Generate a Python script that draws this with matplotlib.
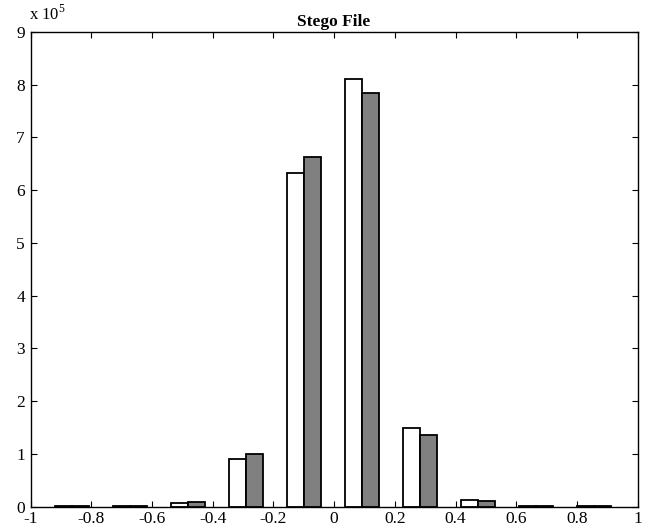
import matplotlib
matplotlib.use("Agg")
import matplotlib.pyplot as plt
import numpy as np

plt.rcParams['font.family'] = ['Liberation Serif', 'DejaVu Serif']
plt.rcParams['mathtext.fontset'] = 'custom'
plt.rcParams['mathtext.rm'] = 'Liberation Serif'
plt.rcParams['axes.unicode_minus'] = False

# histogram bin centres and counts in units of 1e5
centers = [-0.863, -0.672, -0.482, -0.290, -0.099, 0.092, 0.283, 0.474, 0.665, 0.856]
cover = [0.005, 0.004, 0.075, 0.90, 6.32, 8.11, 1.49, 0.13, 0.02, 0.005]
stego = [0.005, 0.004, 0.09, 1.00, 6.62, 7.84, 1.35, 0.10, 0.008, 0.005]
xticks = [-1, -0.8, -0.6, -0.4, -0.2, 0, 0.2, 0.4, 0.6, 0.8, 1]
xlabels = ['-1', '-0.8', '-0.6', '-0.4', '-0.2', '0', '0.2', '0.4', '0.6', '0.8', '1']
yticks = list(range(10))

fig = plt.figure(figsize=(6.5, 5.3), dpi=100)
ax = fig.add_axes([0.047, 0.044, 0.934, 0.8957])

c = np.array(centers)
w = 0.0555
ax.bar(c - w / 2, cover, w, color='white', edgecolor='black', linewidth=1.3)
ax.bar(c + w / 2, stego, w, color='#808080', edgecolor='black', linewidth=1.3)

ax.set_xlim(-1, 1)
ax.set_ylim(0, 9)
ax.set_xticks(xticks)
ax.set_xticklabels(xlabels)
ax.set_yticks(yticks)
ax.tick_params(direction='in', length=4, width=0.8, top=True, right=True,
               labelsize=12.5)
ax.tick_params(axis='x', pad=3)
ax.tick_params(axis='y', pad=4)
for s in ax.spines.values():
    s.set_linewidth(1.0)

ax.set_title('Stego File', fontsize=12.5, fontweight='bold', pad=4)
fig.text(0.045, 0.955, r'x 10$^{5}$', fontsize=12, ha='left', va='bottom')

fig.savefig('out.png', dpi=100)
